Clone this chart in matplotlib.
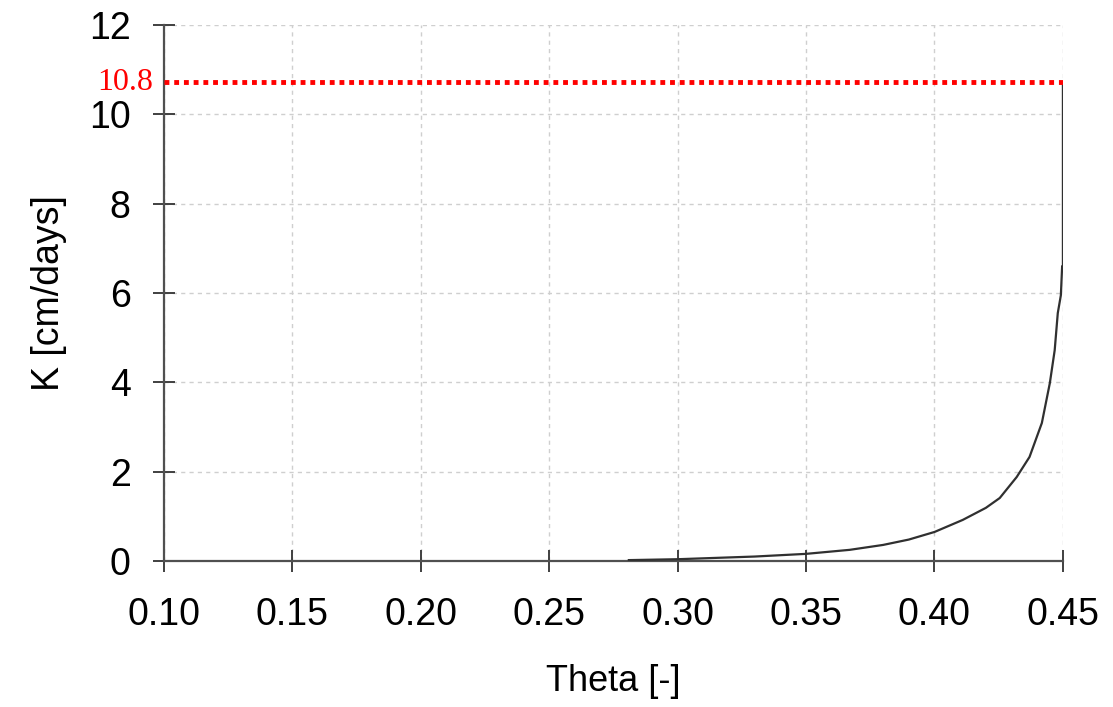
import matplotlib
matplotlib.use("Agg")
import matplotlib.pyplot as plt

theta = [0.281, 0.300, 0.315, 0.330, 0.350, 0.367, 0.380, 0.390, 0.400, 0.411,
         0.420, 0.4254, 0.432, 0.437, 0.4418, 0.4449, 0.4468, 0.448, 0.4492,
         0.4497, 0.4500, 0.4500]
K = [0.02, 0.04, 0.07, 0.10, 0.16, 0.25, 0.36, 0.48, 0.65, 0.92,
     1.19, 1.41, 1.88, 2.33, 3.09, 3.98, 4.72, 5.55, 5.95,
     6.60, 6.60, 10.72]
ks_line = 10.72
ks_label = "10.8"
xticks = [0.10, 0.15, 0.20, 0.25, 0.30, 0.35, 0.40, 0.45]
xticklabels = ["0.10", "0.15", "0.20", "0.25", "0.30", "0.35", "0.40", "0.45"]
yticks = [0, 2, 4, 6, 8, 10, 12]

plt.rcParams['font.family'] = ['Liberation Sans', 'DejaVu Sans']

fig = plt.figure(figsize=(11.13, 7.07), dpi=100)
ax = fig.add_axes([0.1473, 0.2065, 0.955 - 0.1473, 0.9646 - 0.2065])

ax.plot(theta, K, color='#303030', lw=1.6, zorder=3)
ax.plot([0.10, 0.45], [ks_line, ks_line], color='#ff0000', lw=3.5, ls=(0, (1, 1)), zorder=4)

ax.set_xlim(0.10, 0.45)
ax.set_ylim(0, 12)
ax.set_xticks(xticks)
ax.set_xticklabels(xticklabels)
ax.set_yticks(yticks)

for s in ['top', 'right']:
    ax.spines[s].set_visible(False)
for s in ['left', 'bottom']:
    ax.spines[s].set_color('#505050')
    ax.spines[s].set_linewidth(1.6)

ax.tick_params(direction='inout', length=16, width=1.4, color='#404040',
               labelsize=27, labelcolor='black')
ax.tick_params(axis='x', pad=18)
ax.tick_params(axis='y', pad=16)

ax.grid(True, color='#cfcfcf', ls=(0, (3, 3)), lw=1.0)
ax.set_axisbelow(True)

ax.set_xlabel('Theta [-]', fontsize=26, labelpad=22)
ax.set_ylabel('K [cm/days]', fontsize=27, labelpad=16)

ax.text(-0.012, ks_line, ks_label, transform=ax.get_yaxis_transform(), ha='right', va='center',
        color='#ff0000', fontsize=23, family=['Liberation Serif', 'DejaVu Serif'])

fig.savefig('out.png', dpi=100)
